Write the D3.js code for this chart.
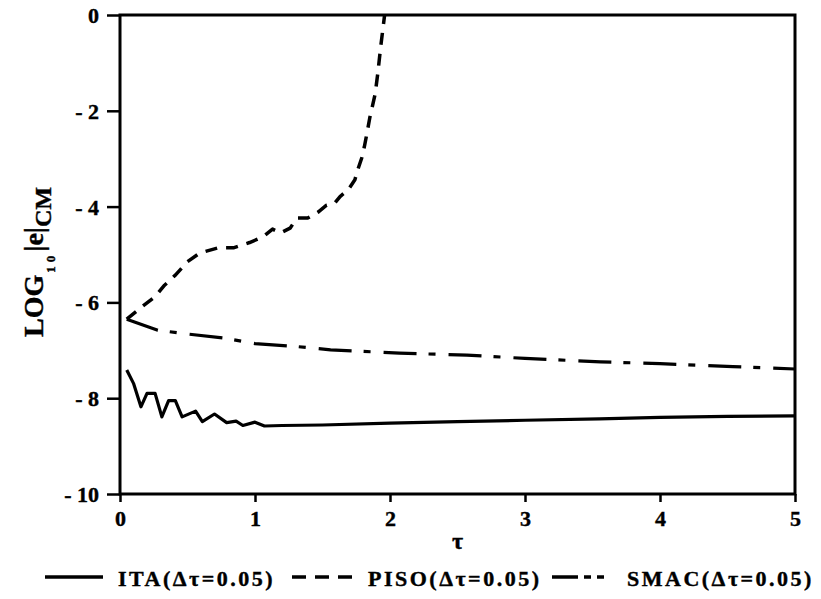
<!DOCTYPE html>
<html lang="en">
<head>
<meta charset="UTF-8">
<title>LOG10 |e|CM vs tau</title>
<style>
    body { margin: 0; background: #fff; }
    svg text { font-family: "Liberation Serif", "Times New Roman", serif; font-weight: bold; fill: #000; stroke: #000; stroke-width: 0.4px; }
    .frame { fill: none; stroke: #000; stroke-width: 3px; }
    .axis path { display: none; }
    .axis line { stroke: #000; stroke-width: 2.5px; }
    .curve { fill: none; stroke: #000; stroke-linejoin: round; }
</style>
</head>
<body>
<svg width="821" height="599"></svg>
<script src="https://d3js.org/d3.v7.min.js"></script>
<script>
// values
const itaT = [0.05, 0.10, 0.155, 0.20, 0.26, 0.31, 0.36, 0.41, 0.46, 0.56, 0.61, 0.70, 0.79, 0.86, 0.91, 1.00, 1.07, 1.20, 1.50, 2.00, 2.50, 3.00, 3.55, 4.00, 4.50, 5.00];
const itaV = [-7.41, -7.69, -8.18, -7.90, -7.90, -8.39, -8.05, -8.05, -8.39, -8.27, -8.49, -8.33, -8.51, -8.48, -8.57, -8.50, -8.58, -8.57, -8.56, -8.52, -8.49, -8.46, -8.43, -8.40, -8.38, -8.37];

const pisoT = [0.05, 0.15, 0.26, 0.33, 0.41, 0.50, 0.59, 0.73, 0.84, 0.96, 1.06, 1.13, 1.19, 1.26, 1.31, 1.39, 1.47, 1.53, 1.59, 1.63, 1.69, 1.74, 1.76, 1.79, 1.81, 1.83, 1.85, 1.89, 1.91, 1.93, 1.95, 1.96];
const pisoV = [-6.35, -6.12, -5.88, -5.64, -5.43, -5.15, -4.97, -4.86, -4.86, -4.75, -4.63, -4.47, -4.55, -4.45, -4.24, -4.24, -4.11, -3.97, -3.93, -3.79, -3.65, -3.44, -3.24, -2.99, -2.75, -2.46, -2.15, -1.65, -1.21, -0.69, -0.23, 0];

const smacT = [0.05, 0.17, 0.28, 0.50, 0.76, 1.00, 1.30, 1.56, 2.07, 2.57, 3.00, 3.56, 4.00, 4.54, 5.00];
const smacV = [-6.35, -6.47, -6.58, -6.66, -6.74, -6.86, -6.92, -6.99, -7.06, -7.10, -7.17, -7.24, -7.28, -7.34, -7.39];

const xTicks = [0, 1, 2, 3, 4, 5];
const yTicks = [-10, -8, -6, -4, -2, 0];
const yTickLabels = ["- 10", "- 8", "- 6", "- 4", "- 2", "0"];

const legendNames = ["ITA(\u0394\u03c4=0.05)", "PISO(\u0394\u03c4=0.05)", "SMAC(\u0394\u03c4=0.05)"];

const svg = d3.select("svg");
const x = d3.scaleLinear().domain([0, 5]).range([120, 795]);
const y = d3.scaleLinear().domain([-10, 0]).range([494, 15]);

// y axis ticks, outward to the left
const yAxis = svg.append("g").attr("class", "axis")
    .attr("transform", "translate(120,0)")
    .call(d3.axisLeft(y).tickValues(yTicks).tickSize(13).tickPadding(8)
        .tickFormat((d, i) => yTickLabels[i]));
yAxis.selectAll("text")
    .style("font-size", "22px")
    .attr("dy", "0.34em");

// x axis ticks, outward below
const xAxis = svg.append("g").attr("class", "axis")
    .attr("transform", "translate(0,494)")
    .call(d3.axisBottom(x).tickValues(xTicks).tickSize(8).tickPadding(0)
        .tickFormat(d3.format("d")));
xAxis.selectAll("text")
    .style("font-size", "22px")
    .attr("y", 32)
    .attr("dy", 0);

svg.append("rect").attr("class", "frame")
    .attr("x", x(0)).attr("y", y(0))
    .attr("width", x(5) - x(0)).attr("height", y(-10) - y(0));

const line = d3.line().x(d => x(d[0])).y(d => y(d[1])).curve(d3.curveLinear);

svg.append("path").attr("class", "curve")
    .attr("d", line(d3.zip(itaT, itaV)))
    .style("stroke-width", 3.2);

svg.append("path").attr("class", "curve")
    .attr("d", line(d3.zip(pisoT, pisoV)))
    .style("stroke-width", 3.5)
    .style("stroke-dasharray", "12,9");

svg.append("path").attr("class", "curve")
    .attr("d", line(d3.zip(smacT, smacV)))
    .style("stroke-width", 3.2)
    .style("stroke-dasharray", "33,12,7,13");

// axis titles
svg.append("text")
    .attr("x", x(2.5)).attr("y", 549)
    .attr("text-anchor", "middle")
    .style("font-size", "24px")
    .text("\u03c4");

const ylab = svg.append("text")
    .attr("transform", "translate(43,337) rotate(-90)");
ylab.append("tspan").style("font-size", "28px").text("LOG");
ylab.append("tspan").style("font-size", "13px").style("letter-spacing", "4px")
    .attr("dx", 2).attr("dy", 12).text("10");
ylab.append("tspan").style("font-size", "28px").attr("dy", -12).text("|e|");
ylab.append("tspan").style("font-size", "24px").attr("dy", 8).text("CM");

// legend
const legY = 586;
const lg = svg.append("g");
const samples = [
    { x1: 45, x2: 103, dash: null, tx: 118 },
    { x1: 292, x2: 360, dash: "14,9", tx: 368 },
    { x1: 552, x2: 617, dash: "26,6,7,6,7", tx: 627 }
];
samples.forEach((s, i) => {
    lg.append("line")
        .attr("x1", s.x1).attr("x2", s.x2)
        .attr("y1", legY - 9).attr("y2", legY - 9)
        .style("stroke", "#000").style("stroke-width", 3.5)
        .style("stroke-dasharray", s.dash);
    lg.append("text")
        .attr("x", s.tx).attr("y", legY)
        .style("font-size", "22px")
        .style("letter-spacing", "2.5px")
        .text(legendNames[i]);
});
</script>
</body>
</html>
